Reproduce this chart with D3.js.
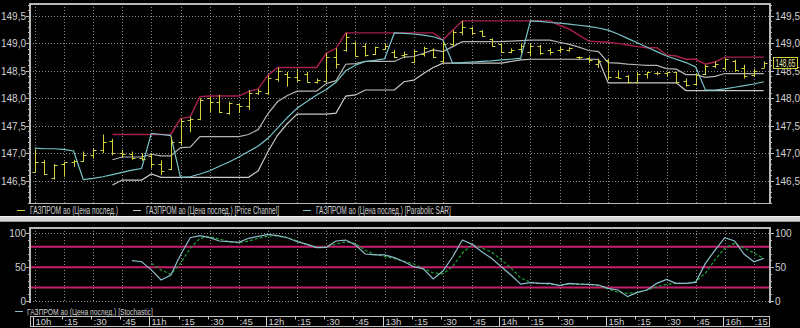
<!DOCTYPE html>
<html>
<head>
<meta charset="utf-8">
<script src="https://cdn.jsdelivr.net/npm/d3@7"></script>
<style>
  body { margin: 0; background: #000; }
  svg { display: block; }
  text { font-family: "Liberation Sans", Arial, sans-serif; }
</style>
</head>
<body>
<svg id="chart" width="800" height="328"></svg>
<script>
// 5-minute bars, 10:00 .. 16:20 (one bar missing before 15:00)
const open  = [146.66,146.84,146.55,146.80,146.84,146.86,146.97,147.05,147.22,147.00,146.98,146.92,146.95,146.80,146.72,147.20,147.60,147.62,148.00,147.93,147.73,147.90,147.85,148.10,148.10,148.35,148.45,148.39,148.45,148.30,148.31,148.75,148.88,149.00,148.95,148.80,148.90,148.85,148.78,148.66,148.80,148.88,148.68,148.98,149.20,149.28,149.22,149.08,148.98,148.85,148.90,148.85,148.95,148.88,148.88,148.88,148.76,148.73,148.62,148.70,148.38,148.40,148.29,148.45,148.46,148.46,148.47,148.32,148.26,148.44,148.58,148.55,148.68,148.55,148.42,148.56];
const high  = [147.07,146.88,146.80,146.84,146.88,147.03,147.09,147.34,147.26,147.06,147.03,147.00,147.00,146.87,147.30,147.63,147.66,148.00,148.03,148.06,147.94,147.90,148.15,148.17,148.42,148.56,148.48,148.54,148.48,148.36,148.82,148.91,149.19,149.03,149.00,148.94,149.00,148.88,148.85,148.88,148.94,148.91,149.03,149.24,149.41,149.30,149.24,149.09,149.00,148.91,149.00,149.00,148.97,148.91,148.94,148.93,148.76,148.76,148.71,148.71,148.51,148.42,148.48,148.48,148.48,148.48,148.48,148.36,148.45,148.61,148.67,148.73,148.70,148.61,148.54,148.67];
const low   = [146.66,146.60,146.52,146.57,146.75,146.84,146.90,147.00,146.96,146.91,146.88,146.86,146.72,146.60,146.69,147.15,147.38,147.60,147.75,147.73,147.70,147.73,147.79,148.06,148.06,148.30,148.21,148.30,148.29,148.27,148.30,148.54,148.85,148.76,148.76,148.79,148.88,148.73,148.73,148.64,148.76,148.73,148.64,148.94,149.15,149.15,149.12,148.94,148.82,148.82,148.82,148.76,148.79,148.79,148.82,148.85,148.70,148.64,148.55,148.33,148.36,148.27,148.27,148.36,148.42,148.39,148.27,148.21,148.24,148.42,148.55,148.51,148.48,148.36,148.39,148.55];
const close = [146.84,146.62,146.78,146.84,146.86,146.97,147.06,147.20,147.00,146.98,146.92,146.90,146.80,146.67,147.21,147.58,147.62,147.97,147.93,147.75,147.92,147.85,148.10,148.13,148.37,148.50,148.39,148.33,148.30,148.33,148.75,148.62,149.12,148.77,148.79,148.93,148.95,148.76,148.80,148.86,148.92,148.75,148.98,149.20,149.30,149.18,149.13,148.96,148.85,148.88,148.95,148.95,148.83,148.85,148.90,148.92,148.76,148.70,148.68,148.38,148.37,148.29,148.45,148.47,148.46,148.47,148.30,148.25,148.42,148.58,148.63,148.71,148.52,148.40,148.50,148.65];

// Price Channel (upper / middle / lower), starts at bar 8
const chUpper = [null,null,null,null,null,null,null,null,147.34,147.34,147.34,147.34,147.34,147.34,147.34,147.63,147.66,148.03,148.04,148.04,148.04,148.04,148.12,148.17,148.42,148.56,148.56,148.56,148.56,148.56,148.82,148.91,149.19,149.19,149.19,149.19,149.19,149.19,149.19,149.19,149.19,149.19,149.06,149.24,149.41,149.41,149.41,149.41,149.41,149.41,149.41,149.41,149.41,149.41,149.33,149.26,149.15,149.04,149.03,149.02,149.00,148.97,148.94,148.92,148.92,148.79,148.77,148.71,148.71,148.62,148.66,148.75,148.75,148.75,148.75,148.75];
const chMiddle = [null,null,null,null,null,null,null,null,146.88,146.93,146.93,146.93,146.98,146.95,146.95,147.10,147.11,147.30,147.30,147.30,147.30,147.30,147.34,147.43,147.72,147.94,148.05,148.13,148.13,148.13,148.27,148.32,148.62,148.63,148.67,148.67,148.67,148.67,148.75,148.76,148.82,148.88,148.85,148.94,149.03,149.03,149.03,149.03,149.03,149.04,149.05,149.06,149.06,149.06,149.02,148.98,148.93,148.87,148.85,148.65,148.64,148.62,148.61,148.60,148.60,148.54,148.53,148.43,148.43,148.38,148.40,148.45,148.45,148.45,148.45,148.45];
const chLower = [null,null,null,null,null,null,null,null,146.42,146.51,146.51,146.51,146.62,146.56,146.56,146.56,146.56,146.56,146.56,146.56,146.56,146.56,146.56,146.68,147.03,147.33,147.54,147.71,147.71,147.71,147.71,147.73,148.04,148.06,148.15,148.15,148.15,148.15,148.30,148.33,148.45,148.56,148.64,148.64,148.64,148.64,148.64,148.64,148.64,148.67,148.70,148.71,148.71,148.71,148.71,148.71,148.71,148.71,148.71,148.28,148.28,148.28,148.28,148.28,148.28,148.28,148.28,148.14,148.14,148.14,148.14,148.14,148.14,148.14,148.14,148.14];

// Parabolic SAR
const sar = [147.09,147.08,147.08,147.07,147.04,146.52,146.54,146.57,146.61,146.65,146.69,146.72,147.36,147.34,147.32,146.56,146.57,146.62,146.68,146.76,146.84,146.93,147.03,147.13,147.27,147.46,147.65,147.82,147.94,148.06,148.16,148.29,148.50,148.60,148.67,148.69,148.72,149.19,149.18,149.17,149.15,149.12,149.06,148.64,148.65,148.66,148.67,148.68,148.70,148.71,148.73,149.41,149.40,149.38,149.37,149.35,149.33,149.31,149.28,149.24,149.17,149.09,149.01,148.93,148.85,148.77,148.71,148.65,148.57,148.15,148.15,148.17,148.20,148.23,148.26,148.30];

// Stochastic %K / %D
const stochK = [null,null,null,null,null,null,null,null,null,null,59.5,58,46,31,38.4,68,93.5,96.5,93.5,88.6,87.6,86.7,92.6,95.5,98.5,96.5,93.5,87.6,83.7,78.8,79.3,88.6,90,82.7,69.4,68,68,64,58,50.7,47.3,32.5,44.3,65.4,90,83.7,72.8,63,50.7,38.4,25,27,26,26,22.6,26,25,24.6,23.6,18.7,16.2,6.4,12.8,16.2,26,32,26,26,27.6,55.6,75.3,93.5,88.6,69,58,63];
const stochD = [null,null,null,null,null,null,null,null,null,null,null,null,55.6,45.8,39.4,55.6,77.8,92.6,95,91.6,87.6,86,88.6,92.6,96,96,93.5,88.6,83.7,79.3,80,83.7,87.6,85,75,69,65.9,62.5,58.6,54.7,47.8,41.4,40,51,70.9,83,78.3,72.3,61,48.8,34,27.6,26,24.6,23.6,25,25,24.6,22.6,17.7,12.8,11.3,12.8,16.2,21,24.6,26,26,28.6,41,61,78,85,78,71,63];
const stochLevels = [20, 50, 80];

// time axis
const tickBars   = [0,3,6,9,12,15,18,21,24,27,30,33,36,39,42,45,48,51,54,57,59,62,65,68,71,74];
const tickLabels = ["10h",":15",":30",":45","11h",":15",":30",":45","12h",":15",":30",":45","13h",":15",":30",":45","14h",":15",":30","","15h",":15",":30",":45","16h",":15"];
const priceTicks = [146.5, 147.0, 147.5, 148.0, 148.5, 149.0, 149.5];
const stochTicks = [0, 50, 100];
const lastPrice = 148.65;

const fmt = v => d3.format(".1f")(v).replace(".", ",");
const fmt2 = v => d3.format(".2f")(v).replace(".", ",");

const svg = d3.select("#chart");
const left = 30, right = 770;

const x = d3.scaleLinear().domain([0, 75]).range([34.7, 763.7]);
const y = d3.scaleLinear().domain([146.5, 149.5]).range([180.6, 15.9]);
const ys = d3.scaleLinear().domain([0, 100]).range([301, 233.3]);

const mainTop = 4, mainBot = 203;
const stTop = 228, stBot = 303;

// squeeze a text horizontally so it fills the given width (narrow UI font look)
function fitText(g, tx, ty, str, width, size, color) {
  const t = g.append("text").attr("font-size", size).attr("fill", color).text(str);
  const natural = t.node().getComputedTextLength();
  t.attr("transform", `translate(${tx},${ty}) scale(${width / natural},1)`);
  return t;
}

svg.append("rect").attr("width", 800).attr("height", 328).attr("fill", "#000");

svg.append("defs").append("clipPath").attr("id", "clipMain")
  .append("rect").attr("x", left).attr("y", mainTop).attr("width", right - left).attr("height", mainBot - mainTop);

// ---------- grid ----------
const grid = svg.append("g").attr("stroke", "#8a8a8a").attr("stroke-width", 1).attr("stroke-dasharray", "1,2");
priceTicks.forEach(p => {
  grid.append("line").attr("x1", left).attr("x2", right)
    .attr("y1", Math.round(y(p)) + 0.5).attr("y2", Math.round(y(p)) + 0.5);
});
tickBars.forEach(b => {
  const xx = Math.round(x(b)) + 0.5;
  grid.append("line").attr("x1", xx).attr("x2", xx).attr("y1", mainTop).attr("y2", mainBot);
  grid.append("line").attr("x1", xx).attr("x2", xx).attr("y1", stTop).attr("y2", stBot);
});
[0, 100].forEach(v => {
  grid.append("line").attr("x1", left).attr("x2", right)
    .attr("y1", Math.round(ys(v)) + 0.5).attr("y2", Math.round(ys(v)) + 0.5);
});

// ---------- main panel frame + axes ----------
const frame = svg.append("g").attr("stroke", "#b8b8b8").attr("fill", "none");
frame.append("path").attr("stroke-width", 2)
  .attr("d", `M${left},${mainBot}V${mainTop}H${right}V${mainBot}`);
frame.append("line").attr("x1", left).attr("x2", right).attr("y1", mainBot + 0.5).attr("y2", mainBot + 0.5);

d3.range(146.1, 149.75, 0.1).forEach(p => {
  const yy = Math.round(y(p)) + 0.5;
  frame.append("line").attr("x1", left - 2).attr("x2", left).attr("y1", yy).attr("y2", yy);
  frame.append("line").attr("x1", right).attr("x2", right + 2).attr("y1", yy).attr("y2", yy);
});
priceTicks.forEach(p => {
  const yy = Math.round(y(p)) + 0.5;
  frame.append("line").attr("x1", left - 4).attr("x2", left).attr("y1", yy).attr("y2", yy);
  frame.append("line").attr("x1", right).attr("x2", right + 4).attr("y1", yy).attr("y2", yy);
  svg.append("text").attr("x", left - 4).attr("y", yy + 3.5).attr("text-anchor", "end")
    .attr("fill", "#d0d0d0").attr("font-size", 10).text(fmt(p));
  svg.append("text").attr("x", right + 5).attr("y", yy + 3.5)
    .attr("fill", "#d0d0d0").attr("font-size", 10).text(fmt(p));
});

// ---------- indicator lines ----------
const plot = svg.append("g").attr("clip-path", "url(#clipMain)");
const priceLine = arr => d3.line().defined(d => d != null).x((d, i) => x(i)).y(d => y(d))(arr);

plot.append("path").attr("d", priceLine(chLower)).attr("fill", "none").attr("stroke", "#c8c8c8").attr("stroke-width", 1.2);
plot.append("path").attr("d", priceLine(chMiddle)).attr("fill", "none").attr("stroke", "#b4b4b4").attr("stroke-width", 1.2);
plot.append("path").attr("d", priceLine(chUpper)).attr("fill", "none").attr("stroke", "#a8204e").attr("stroke-width", 1.4);
plot.append("path").attr("d", priceLine(sar)).attr("fill", "none").attr("stroke", "#78c4c8").attr("stroke-width", 1.2);

// ---------- OHLC bars ----------
const bars = d3.range(open.length).map(i => ({ i, o: open[i], h: high[i], l: low[i], c: close[i] }));
const bg = plot.append("g").attr("stroke", "#d2d23a").attr("stroke-width", 1);
bars.forEach(d => {
  const xx = Math.round(x(d.i)) + 0.5;
  bg.append("line").attr("x1", xx).attr("x2", xx).attr("y1", y(d.h)).attr("y2", y(d.l));
  bg.append("line").attr("x1", xx - 3).attr("x2", xx).attr("y1", Math.round(y(d.o)) + 0.5).attr("y2", Math.round(y(d.o)) + 0.5);
  bg.append("line").attr("x1", xx).attr("x2", xx + 3).attr("y1", Math.round(y(d.c)) + 0.5).attr("y2", Math.round(y(d.c)) + 0.5);
});

// last price marker
const ly = Math.round(y(lastPrice));
svg.append("rect").attr("x", 773.5).attr("y", ly - 5.5).attr("width", 24).attr("height", 11)
  .attr("fill", "#000").attr("stroke", "#d2d23a");
fitText(svg, 775.5, ly + 3.5, fmt2(lastPrice), 20, 10, "#e8e8b0");

// ---------- main legend ----------
const legend = [
  { color: "#d2d23a", x: 17, text: "ГАЗПРОМ ао (Цена послед.)", w: 88 },
  { color: "#c8c8c8", x: 133, text: "ГАЗПРОМ ао (Цена послед.) [Price Channel]", w: 133 },
  { color: "#78c4c8", x: 303, text: "ГАЗПРОМ ао (Цена послед.) [Parabolic SAR]", w: 135 }
];
legend.forEach(l => {
  svg.append("line").attr("x1", l.x).attr("x2", l.x + 8).attr("y1", 210.5).attr("y2", 210.5).attr("stroke", l.color);
  fitText(svg, l.x + 13, 214, l.text, l.w, 10, "#d0d0d0");
});

// ---------- splitter ----------
svg.append("rect").attr("x", 0).attr("y", 216).attr("width", 800).attr("height", 6).attr("fill", "#d4d4d4");
svg.append("line").attr("x1", 0).attr("x2", 800).attr("y1", 216.5).attr("y2", 216.5).attr("stroke", "#f4f4f4");
svg.append("line").attr("x1", 0).attr("x2", 800).attr("y1", 221.5).attr("y2", 221.5).attr("stroke", "#9a9a9a");

// ---------- stochastic panel ----------
const sp = svg.append("g");
stochLevels.forEach(v => {
  sp.append("line").attr("x1", left).attr("x2", right).attr("y1", ys(v)).attr("y2", ys(v))
    .attr("stroke", "#c81e6e").attr("stroke-width", 2);
});
const stLine = arr => d3.line().defined(d => d != null).x((d, i) => x(i)).y(d => ys(d))(arr);
sp.append("path").attr("d", stLine(stochD)).attr("fill", "none").attr("stroke", "#22a03a").attr("stroke-width", 1.2).attr("stroke-dasharray", "3,2");
sp.append("path").attr("d", stLine(stochK)).attr("fill", "none").attr("stroke", "#8cbcc8").attr("stroke-width", 1.2);

const sf = svg.append("g").attr("stroke", "#b8b8b8").attr("fill", "none");
sf.append("path").attr("stroke-width", 2).attr("d", `M${left},${stBot}V${stTop}H${right}V${stBot}`);
d3.range(0, 101, 10).forEach(v => {
  const yy = Math.round(ys(v)) + 0.5;
  const len = v % 50 === 0 ? 4 : 2;
  sf.append("line").attr("x1", left - len).attr("x2", left).attr("y1", yy).attr("y2", yy);
  sf.append("line").attr("x1", right).attr("x2", right + len).attr("y1", yy).attr("y2", yy);
});
stochTicks.forEach(v => {
  const yy = Math.round(ys(v)) + 0.5;
  svg.append("text").attr("x", left - 4).attr("y", yy + 3.5).attr("text-anchor", "end")
    .attr("fill", "#d0d0d0").attr("font-size", 10).text(v);
  svg.append("text").attr("x", right + 5).attr("y", yy + 3.5)
    .attr("fill", "#d0d0d0").attr("font-size", 10).text(v);
});

svg.append("line").attr("x1", 15).attr("x2", 23).attr("y1", 311.5).attr("y2", 311.5).attr("stroke", "#8cbcc8");
fitText(svg, 27, 314.5, "ГАЗПРОМ ао (Цена послед.) [Stochastic]", 126, 9.5, "#d0d0d0");

// ---------- time axis ----------
const ta = svg.append("g");
ta.append("rect").attr("x", left + 0.5).attr("y", 316.5).attr("width", right - left - 1).attr("height", 10)
  .attr("fill", "#000").attr("stroke", "#c0c0c0");
tickBars.forEach((b, k) => {
  const xx = Math.round(x(b)) + 0.5;
  const hour = tickLabels[k].endsWith("h");
  ta.append("line").attr("x1", xx - 2).attr("x2", xx - 2).attr("y1", 317).attr("y2", hour ? 326 : 319.5)
    .attr("stroke", "#d0d0d0");
  ta.append("text").attr("x", xx).attr("y", 325).attr("fill", "#d0d0d0").attr("font-size", 9.5).text(tickLabels[k]);
});
</script>
</body>
</html>
